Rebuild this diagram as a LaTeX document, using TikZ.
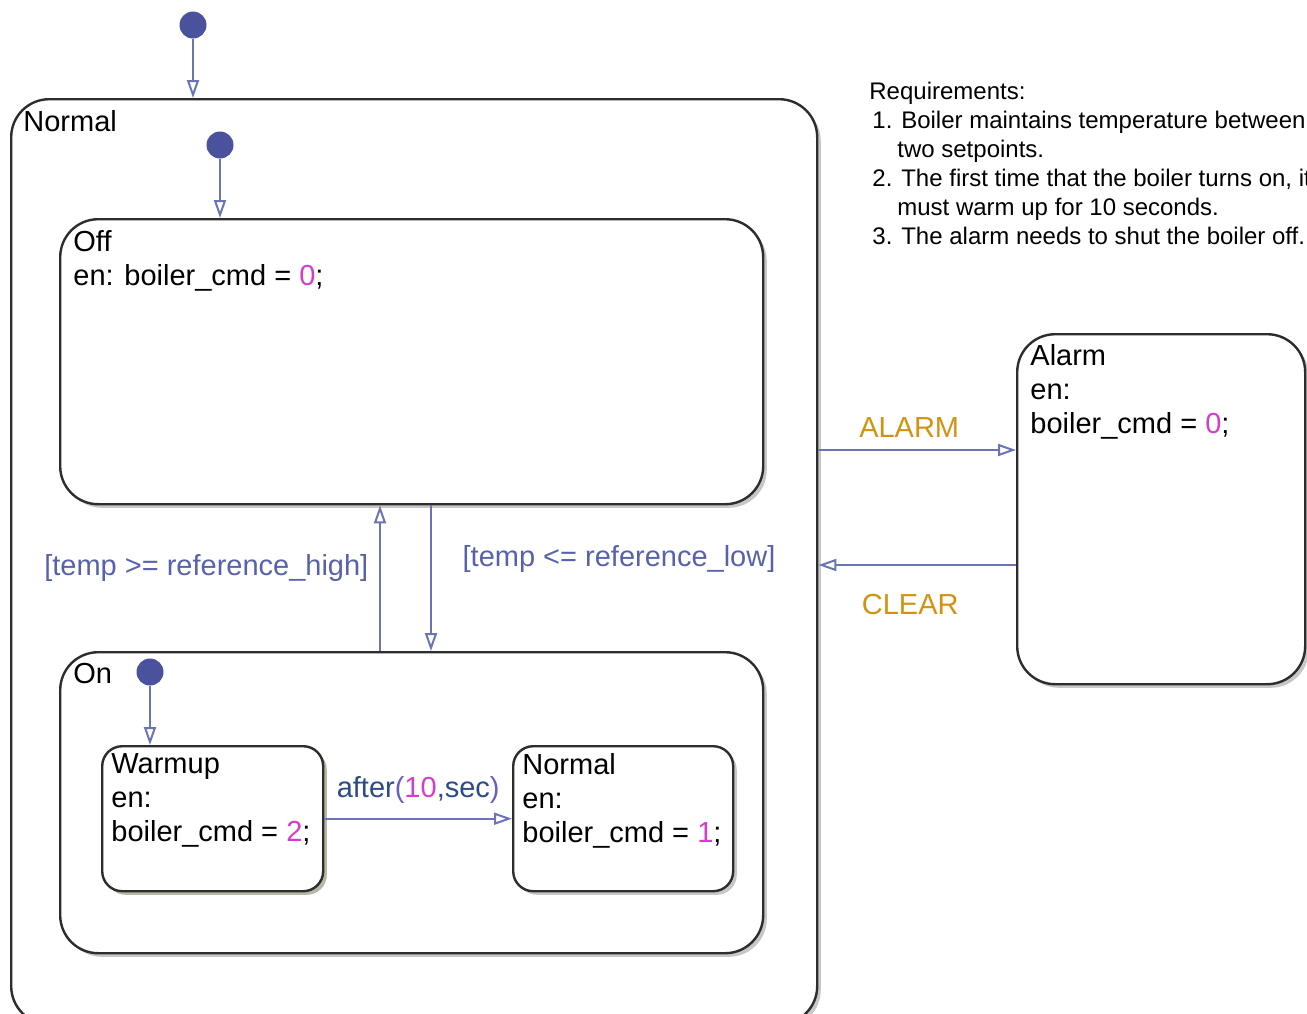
\documentclass[tikz,border=0pt]{standalone}
\usepackage{fontspec}
\setmainfont{Liberation Sans}
\usetikzlibrary{arrows.meta, shadows}

\definecolor{transblue}{RGB}{108,116,184}
\definecolor{dotblue}{RGB}{74,82,158}
\definecolor{guardblue}{RGB}{88,98,172}
\definecolor{navyblue}{RGB}{44,74,138}
\definecolor{parenblue}{RGB}{104,98,190}
\definecolor{valmag}{RGB}{214,60,204}
\definecolor{evorange}{RGB}{212,146,18}
\definecolor{stateline}{RGB}{45,45,45}
\definecolor{warmshadow}{RGB}{150,150,95}

\begin{document}
\begin{tikzpicture}[x=0.5pt, y=-0.5pt,
    state/.style={draw=stateline, line width=1.2pt, fill=white, rounded corners=19pt,
        anchor=north west, inner sep=0pt,
        drop shadow={shadow xshift=1.8pt, shadow yshift=-1.8pt, fill=black, opacity=0.22}},
    substate/.style={state, rounded corners=10pt},
    txt/.style={anchor=north west, inner sep=0pt, align=left, font=\fontsize{14.5}{17}\selectfont},
    init/.style={circle, fill=dotblue, minimum size=13.5pt, inner sep=0pt},
    trans/.style={draw=transblue, line width=1pt, -{Triangle[open, length=9pt, width=6pt]}},
    guard/.style={text=guardblue, font=\fontsize{14.5}{17}\selectfont},
    ev/.style={text=evorange, font=\fontsize{14.5}{17}\selectfont}]

    % Frame of the chart
    \clip (0,0) rectangle (1307,1013);

    % Superstate and its children
    \node[state, minimum width=403pt, minimum height=462.5pt] (top) at (10,98) {};
    \node[txt] (toplbl) at ([shift={(13,12)}]top.north west) {Normal};

    \node[state, minimum width=351.5pt, minimum height=142.5pt] (off) at (59,218) {};
    \node[txt] (offtxt) at ([shift={(14,12)}]off.north west)
        {Off\\en: boiler\_cmd = \textcolor{valmag}{0};};

    \node[state, minimum width=351.5pt, minimum height=150.5pt] (on) at (59,651) {};
    \node[txt] (onlbl) at ([shift={(14,12)}]on.north west) {On};

    \node[substate, minimum width=110.5pt, minimum height=72.5pt,
        drop shadow={shadow xshift=1.8pt, shadow yshift=-1.8pt, fill=warmshadow, opacity=0.3}] (warmup) at (101,745) {};
    \node[txt] (warmtxt) at ([shift={(10,8)}]warmup.north west)
        {Warmup\\en:\\boiler\_cmd = \textcolor{valmag}{2};};

    \node[substate, minimum width=110pt, minimum height=72.5pt] (normon) at (512,745) {};
    \node[txt] (normtxt) at ([shift={(10,8)}]normon.north west)
        {Normal\\en:\\boiler\_cmd = \textcolor{valmag}{1};};

    % Alarm state
    \node[state, minimum width=144pt, minimum height=175pt] (alarm) at (1016,333) {};
    \node[txt] (alarmtxt) at ([shift={(14,11)}]alarm.north west)
        {Alarm\\en:\\boiler\_cmd = \textcolor{valmag}{0};};

    % Requirements note
    \node[anchor=north west, inner sep=0pt, align=left, font=\fontsize{12}{14.5}\selectfont] (req) at (869,82)
        {Requirements:\\
        \hspace*{1.5pt}1. Boiler maintains temperature between\\
        \hspace*{14pt}two setpoints.\\
        \hspace*{1.5pt}2. The first time that the boiler turns on, it\\
        \hspace*{14pt}must warm up for 10 seconds.\\
        \hspace*{1.5pt}3. The alarm needs to shut the boiler off.};

    % Default transitions
    \node[init] (init0) at (193,25) {};
    \node[init] (init1) at (220,145) {};
    \node[init] (init2) at (150,672) {};
    \draw[trans] (init0) -- (init0 |- top.north);
    \draw[trans] (init1) -- (init1 |- off.north);
    \draw[trans] (init2) -- (init2 |- warmup.north);

    % Off <-> On
    \coordinate (xup) at (380,0);
    \coordinate (xdown) at (431,0);
    \draw[trans] (on.north -| xup) -- (off.south -| xup)
        node[guard, pos=0.57, left, xshift=-2pt] (gdhigh) {[temp >= reference\_high]};
    \draw[trans] (off.south -| xdown) -- (on.north -| xdown)
        node[guard, pos=0.365, right, xshift=12pt] (gdlow) {[temp <= reference\_low]};

    % Warmup -> Normal
    \draw[trans] (warmup.east) -- (normon.west)
        node[midway, above, yshift=4pt, font=\fontsize{14.5}{17}\selectfont] (after)
        {\textcolor{navyblue}{after}\textcolor{parenblue}{(}\textcolor{valmag}{10}\textcolor{navyblue}{,sec}\textcolor{parenblue}{)}};

    % Normal <-> Alarm
    \coordinate (yalarm) at (0,450);
    \coordinate (yclear) at (0,565);
    \draw[trans] (top.east |- yalarm) -- (alarm.west |- yalarm)
        node[ev, midway, above, xshift=-4pt, yshift=2.5pt] (evalarm) {ALARM};
    \draw[trans] (alarm.west |- yclear) -- (top.east |- yclear)
        node[ev, midway, below, yshift=-11pt, xshift=-3.5pt] (evclear) {CLEAR};

\end{tikzpicture}
\end{document}
